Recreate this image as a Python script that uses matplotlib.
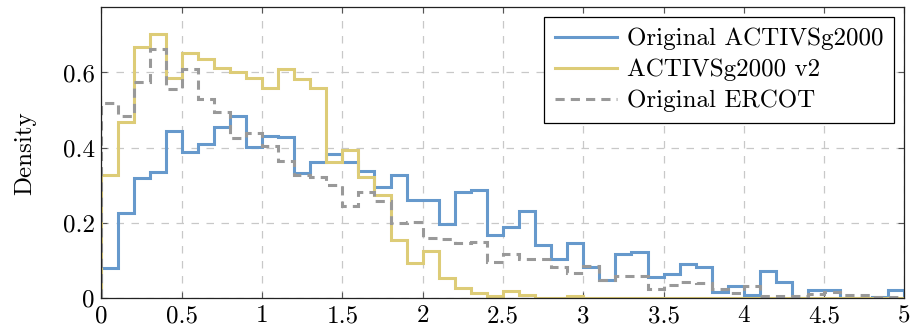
import numpy as np
import matplotlib
matplotlib.use("Agg")
import matplotlib.pyplot as plt

# bin edges: 0 to 5 in steps of 0.1
edges = np.round(np.arange(0, 5.01, 0.1), 2)

# densities per bin
activsg_orig = [
    0.081, 0.228, 0.320, 0.335, 0.445, 0.388, 0.410, 0.454, 0.484, 0.403,
    0.432, 0.428, 0.334, 0.363, 0.384, 0.363, 0.338, 0.295, 0.327, 0.261,
    0.261, 0.197, 0.282, 0.287, 0.168, 0.190, 0.232, 0.142, 0.104, 0.146,
    0.084, 0.050, 0.117, 0.124, 0.056, 0.065, 0.090, 0.082, 0.018, 0.034,
    0.008, 0.073, 0.044, 0.002, 0.022, 0.022, 0.002, 0.002, 0.004, 0.022,
]
activsg_v2 = [
    0.327, 0.469, 0.667, 0.702, 0.586, 0.653, 0.636, 0.613, 0.602, 0.585,
    0.558, 0.609, 0.582, 0.558, 0.363, 0.393, 0.322, 0.274, 0.155, 0.093,
    0.126, 0.055, 0.027, 0.015, 0.006, 0.019, 0.009, 0.002, 0.002, 0.006,
    0.002, 0.002, 0.002, 0.002, 0.002, 0.002, 0.002, 0.002, 0.002, 0.002,
    0.002, 0.002, 0.002, 0.0, 0.0, 0.0, 0.0, 0.0, 0.0, 0.0,
]
ercot_orig = [
    0.518, 0.485, 0.575, 0.663, 0.555, 0.608, 0.529, 0.494, 0.427, 0.438,
    0.405, 0.365, 0.327, 0.323, 0.301, 0.245, 0.283, 0.259, 0.199, 0.203,
    0.161, 0.157, 0.146, 0.150, 0.096, 0.118, 0.104, 0.104, 0.084, 0.068,
    0.086, 0.048, 0.059, 0.060, 0.025, 0.035, 0.044, 0.040, 0.026, 0.015,
    0.034, 0.005, 0.006, 0.005, 0.011, 0.016, 0.010, 0.010, 0.003, 0.003,
]

labels = ["Original ACTIVSg2000", "ACTIVSg2000 v2", "Original ERCOT"]

plt.rcParams["font.family"] = ["cmr10", "DejaVu Serif"]
plt.rcParams["mathtext.fontset"] = "cm"
plt.rcParams["axes.formatter.use_mathtext"] = True

FS = 18

fig = plt.figure(figsize=(9.14, 3.33), dpi=100)
ax = fig.add_axes([0.111, 0.104, 0.8786, 0.874])

ax.stairs(activsg_orig, edges, color="#6699CC", lw=2.2, label=labels[0])
ax.stairs(activsg_v2, edges, color="#DDCC77", lw=2.2, label=labels[1])
ax.stairs(ercot_orig, edges, color="#999999", lw=2.2,
          linestyle=(0, (3.0, 2.0)), label=labels[2])

ax.set_xlim(0, 5)
ax.set_ylim(0, 0.773)
ax.set_xticks([0, 0.5, 1, 1.5, 2, 2.5, 3, 3.5, 4, 4.5, 5])
ax.set_xticklabels(["0", "0.5", "1", "1.5", "2", "2.5", "3", "3.5", "4", "4.5", "5"])
ax.set_yticks([0, 0.2, 0.4, 0.6])
ax.set_yticklabels(["0", "0.2", "0.4", "0.6"])
ax.grid(True, color="#c8c8c8", linestyle=(0, (6, 6)), lw=0.9)
ax.set_axisbelow(True)
ax.tick_params(direction="in", top=True, right=True, length=4, width=0.8,
               labelsize=FS, pad=5, color="#555555")
for s in ax.spines.values():
    s.set_linewidth(0.9)
    s.set_color("#222222")
ax.set_ylabel("Density", fontsize=FS, labelpad=19)

leg = ax.legend(loc="upper right", fontsize=FS, frameon=True, fancybox=False,
                handlelength=2.5, borderaxespad=0.4, labelspacing=0.34,
                handletextpad=0.4, borderpad=0.42)
leg.get_frame().set_edgecolor("black")
leg.get_frame().set_linewidth(0.9)
leg.get_frame().set_alpha(1)

fig.savefig("out.png", dpi=100)
